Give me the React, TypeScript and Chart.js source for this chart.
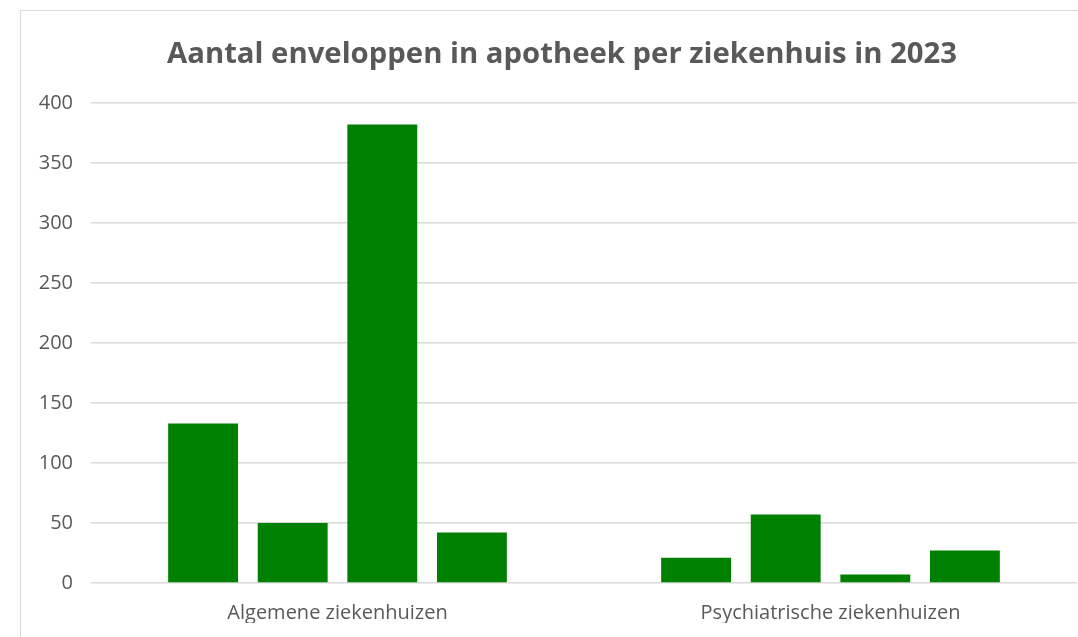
import React, { useEffect, useRef } from "react";
import { Chart, registerables } from "chart.js";

Chart.register(...registerables);

const titleText = "Aantal enveloppen in apotheek per ziekenhuis in 2023";
const categories = ["Algemene ziekenhuizen", "Psychiatrische ziekenhuizen"];
const ziekenhuis1 = [133, 21];
const ziekenhuis2 = [50, 57];
const ziekenhuis3 = [382, 7];
const ziekenhuis4 = [42, 27];
const seriesNames = ["Ziekenhuis 1", "Ziekenhuis 2", "Ziekenhuis 3", "Ziekenhuis 4"];
const yMin = 0;
const yMax = 400;
const yStep = 50;

const GREEN = "#008000";
const TEXT = "#595959";
const GRID = "#d9d9d9";
const FONT = "'Open Sans', 'DejaVu Sans', sans-serif";

const frameTitle = {
  id: "frameTitle",
  afterDraw(chart: any) {
    const ctx = chart.ctx;
    ctx.save();
    ctx.font = `bold 29.3px ${FONT}`;
    ctx.fillStyle = TEXT;
    ctx.textAlign = "center";
    ctx.textBaseline = "middle";
    ctx.fillText(titleText, chart.width / 2, 43.5);
    ctx.restore();
  },
};

export default function App() {
  const ref = useRef<HTMLCanvasElement | null>(null);

  useEffect(() => {
    if (!ref.current) return;
    const series = [ziekenhuis1, ziekenhuis2, ziekenhuis3, ziekenhuis4];
    const chart = new Chart(ref.current, {
      type: "bar",
      data: {
        labels: categories,
        datasets: series.map((d, i) => ({
          label: seriesNames[i],
          data: d,
          backgroundColor: GREEN,
          borderWidth: 0,
          categoryPercentage: 0.727,
          barPercentage: 0.78,
        })),
      },
      plugins: [frameTitle],
      options: {
        animation: false,
        responsive: false,
        maintainAspectRatio: false,
        devicePixelRatio: 1,
        layout: { padding: { left: 0, right: 26, top: 92, bottom: 48 } },
        plugins: {
          legend: { display: false },
          tooltip: { enabled: false },
          title: { display: false },
        },
        scales: {
          x: {
            grid: { display: false, drawTicks: false },
            border: { display: false },
            ticks: {
              color: TEXT,
              font: { family: FONT, size: 20, lineHeight: 1.2 },
              padding: 18,
              maxRotation: 0,
            },
            afterFit: (s: any) => {
              s.height = 40;
            },
          },
          y: {
            min: yMin,
            max: yMax,
            grid: { color: GRID, lineWidth: 1.5, drawTicks: false },
            border: { display: false },
            ticks: {
              stepSize: yStep,
              color: TEXT,
              font: { family: FONT, size: 20, lineHeight: 1.2 },
              padding: 18,
            },
            afterFit: (s: any) => {
              s.width = 70;
            },
          },
        },
      },
    });
    return () => chart.destroy();
  }, []);

  return (
    <div
      style={{
        position: "fixed",
        left: 0,
        top: 0,
        width: 1078,
        height: 637,
        overflow: "hidden",
        background: "#ffffff",
      }}
    >
      <div
        style={{
          position: "absolute",
          left: 20,
          top: 10,
          width: 1082,
          height: 660,
          border: "1px solid #d9d9d9",
          background: "#ffffff",
        }}
      >
        <canvas ref={ref} width={1082} height={660} style={{ display: "block", width: 1082, height: 660 }} />
      </div>
    </div>
  );
}
